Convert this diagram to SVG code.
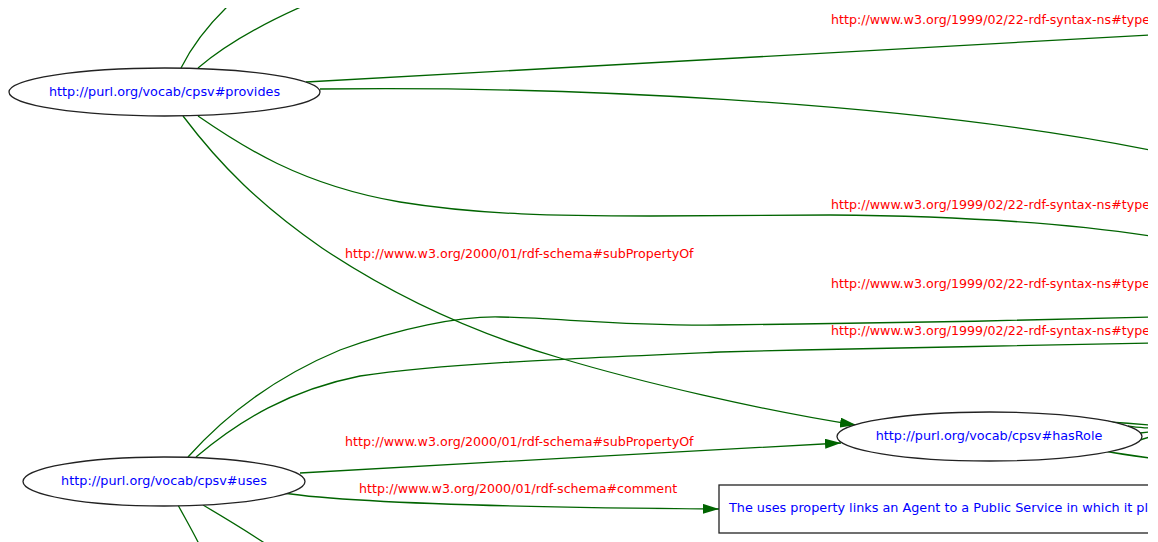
<svg xmlns="http://www.w3.org/2000/svg" width="1158" height="542" viewBox="0 0 1158 542">
  <style>
    .edge { fill: none; stroke: #006400; stroke-width: 1.3; }
    .node ellipse, .node rect { fill: #ffffff; stroke: #222222; stroke-width: 1.3; }
    .node text { font-family: "DejaVu Sans", sans-serif; font-size: 12.8px; fill: #0000ff; }
    .label { font-family: "DejaVu Sans", sans-serif; font-size: 12.65px; fill: #ff0000; }
  </style>
  <defs>
    <marker id="arrow" markerUnits="userSpaceOnUse" viewBox="0 0 16 10" markerWidth="16" markerHeight="10" refX="16" refY="5" orient="auto">
      <path d="M0,0 L16,5 L0,10 z" fill="#006400"/>
    </marker>
    <clipPath id="view">
      <rect x="0" y="8" width="1148" height="534"/>
    </clipPath>
  </defs>
  <rect width="1158" height="542" fill="#ffffff"/>
  <g clip-path="url(#view)">
    <g id="edges">
      <!-- edges leaving cpsv#provides -->
      <path class="edge" d="M181,68 C190,50 205,28 228,6"/>
      <path class="edge" d="M198,68 C225,45 260,25 303,6"/>
      <path class="edge" d="M306,82 C500,70 800,52 1150,35"/>
      <path class="edge" d="M320,89 C550,86 900,100 1150,150"/>
      <path class="edge" d="M198,116 C240,145 300,185 400,202 C480,215 560,216 650,216 L830,215 C950,216 1060,222 1150,236"/>
      <path class="edge" d="M183,116 C220,165 260,205 322,248 C400,300 480,335 560,358 C640,382 760,410 856,425" marker-end="url(#arrow)"/>
      <!-- edges leaving cpsv#uses -->
      <path class="edge" d="M188,457 C230,410 280,375 340,350 C400,328 460,316 500,317 C560,318 620,326 720,325 L800,324 C900,323 1050,320 1150,317"/>
      <path class="edge" d="M196,457 C240,420 290,390 360,376 C440,364 560,359 720,352 L800,350 C900,348 1050,345 1150,343"/>
      <path class="edge" d="M300,473 C450,465 700,450 841,443" marker-end="url(#arrow)"/>
      <path class="edge" d="M283,493 C330,500 450,507 719,509" marker-end="url(#arrow)"/>
      <path class="edge" d="M178,505 C185,518 192,530 199,544"/>
      <path class="edge" d="M203,505 C225,518 245,530 266,544"/>
      <!-- edges leaving cpsv#hasRole -->
      <path class="edge" d="M1108,422 C1125,423 1138,424 1150,425"/>
      <path class="edge" d="M1128,426 C1136,427 1143,428 1150,428"/>
      <path class="edge" d="M1140,433 L1150,432"/>
      <path class="edge" d="M1138,441 C1142,439 1146,438 1150,437"/>
      <path class="edge" d="M1104,451 C1120,454 1135,456 1150,458"/>
    </g>
    <g id="edge-labels">
      <text class="label" x="831" y="24">http://www.w3.org/1999/02/22-rdf-syntax-ns#type</text>
      <text class="label" x="831" y="209">http://www.w3.org/1999/02/22-rdf-syntax-ns#type</text>
      <text class="label" x="345" y="258">http://www.w3.org/2000/01/rdf-schema#subPropertyOf</text>
      <text class="label" x="831" y="288">http://www.w3.org/1999/02/22-rdf-syntax-ns#type</text>
      <text class="label" x="831" y="335">http://www.w3.org/1999/02/22-rdf-syntax-ns#type</text>
      <text class="label" x="345" y="446">http://www.w3.org/2000/01/rdf-schema#subPropertyOf</text>
      <text class="label" x="359" y="493">http://www.w3.org/2000/01/rdf-schema#comment</text>
    </g>
    <g id="node-provides" class="node">
      <ellipse cx="164.5" cy="92" rx="155.5" ry="24"/>
      <text x="164.5" y="96" text-anchor="middle">http://purl.org/vocab/cpsv#provides</text>
    </g>
    <g id="node-uses" class="node">
      <ellipse cx="164" cy="481.5" rx="141" ry="24.5"/>
      <text x="164" y="485" text-anchor="middle">http://purl.org/vocab/cpsv#uses</text>
    </g>
    <g id="node-hasRole" class="node">
      <ellipse cx="989.5" cy="436.5" rx="152.5" ry="24.5"/>
      <text x="989" y="440" text-anchor="middle">http://purl.org/vocab/cpsv#hasRole</text>
    </g>
    <g id="node-uses-comment" class="node">
      <rect x="719" y="485" width="560" height="48"/>
      <text x="729" y="512">The uses property links an Agent to a Public Service in which it plays a role.</text>
    </g>
  </g>
</svg>
